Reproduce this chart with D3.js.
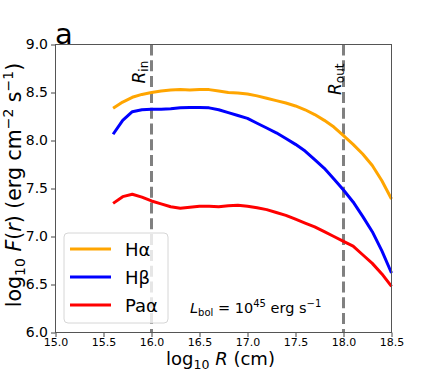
<!DOCTYPE html>
<html>
<head>
<meta charset="utf-8">
<script src="https://cdn.jsdelivr.net/npm/d3@7"></script>
<style>
  body { margin: 0; background: #fff; }
  text { font-family: "DejaVu Sans", sans-serif; }
</style>
</head>
<body>
<svg id="chart"></svg>
<script>
// log10 R (cm) grid and log10 F(r) for each line
const logR = [15.6, 15.7, 15.8, 15.9, 16.0, 16.1, 16.2, 16.3, 16.4, 16.5,
              16.6, 16.7, 16.8, 16.9, 17.0, 17.1, 17.2, 17.3, 17.4, 17.5,
              17.6, 17.7, 17.8, 17.9, 18.0, 18.1, 18.2, 18.3, 18.4, 18.5];
const hAlpha = [8.335, 8.40, 8.45, 8.48, 8.50, 8.515, 8.525, 8.53, 8.525, 8.53,
                8.53, 8.515, 8.50, 8.495, 8.485, 8.465, 8.44, 8.415, 8.39, 8.36,
                8.32, 8.27, 8.21, 8.14, 8.05, 7.96, 7.86, 7.74, 7.58, 7.39];
const hBeta = [8.065, 8.21, 8.30, 8.32, 8.325, 8.325, 8.33, 8.34, 8.345, 8.345,
               8.34, 8.32, 8.29, 8.26, 8.23, 8.18, 8.13, 8.08, 8.02, 7.96,
               7.89, 7.80, 7.71, 7.60, 7.485, 7.36, 7.21, 7.05, 6.85, 6.62];
const paAlpha = [7.345, 7.415, 7.44, 7.41, 7.37, 7.34, 7.31, 7.295, 7.305, 7.315,
                 7.315, 7.31, 7.32, 7.325, 7.315, 7.30, 7.28, 7.25, 7.22, 7.18,
                 7.14, 7.10, 7.05, 7.00, 6.95, 6.90, 6.81, 6.72, 6.61, 6.48];
const seriesNames = ["Hα", "Hβ", "Paα"];
const seriesColors = ["#FFA500", "#0000FF", "#FF0000"];
const xTicks = [15.0, 15.5, 16.0, 16.5, 17.0, 17.5, 18.0, 18.5];
const yTicks = [6.0, 6.5, 7.0, 7.5, 8.0, 8.5, 9.0];
const radii = [16.0, 18.0]; // R_in, R_out

const config = {
  containerWidth: 436,
  containerHeight: 374,
  margin: {top: 44.5, right: 44.5, bottom: 41.5, left: 55.5}
};
const width = config.containerWidth - config.margin.left - config.margin.right;
const height = config.containerHeight - config.margin.top - config.margin.bottom;

const svg = d3.select('#chart')
    .attr('width', config.containerWidth)
    .attr('height', config.containerHeight);

const chart = svg.append('g')
    .attr('transform', `translate(${config.margin.left},${config.margin.top})`);

const xScale = d3.scaleLinear().domain([15.0, 18.5]).range([0, width]);
const yScale = d3.scaleLinear().domain([6.0, 9.0]).range([height, 0]);

// Axes
const xAxis = d3.axisBottom(xScale).tickValues(xTicks).tickFormat(d3.format('.1f')).tickSize(4.5).tickPadding(1);
const yAxis = d3.axisLeft(yScale).tickValues(yTicks).tickFormat(d3.format('.1f')).tickSize(4.5).tickPadding(3);

const xAxisG = chart.append('g')
    .attr('transform', `translate(0,${height})`)
    .call(xAxis);
xAxisG.selectAll('text').attr('font-size', 11).attr('fill', '#000');

const yAxisG = chart.append('g').call(yAxis);
yAxisG.selectAll('text').attr('font-size', 14).attr('fill', '#000');

[xAxisG, yAxisG].forEach(g => {
  g.select('.domain').remove();
  g.selectAll('line').attr('stroke', '#444');
  g.attr('font-family', null);
});

// Dashed vertical lines at R_in, R_out
chart.selectAll('.radius')
    .data(radii)
    .join('line')
    .attr('class', 'radius')
    .attr('x1', d => xScale(d))
    .attr('x2', d => xScale(d))
    .attr('y1', 0)
    .attr('y2', height)
    .attr('stroke', '#808080')
    .attr('stroke-width', 3)
    .attr('stroke-dasharray', '11,4.8');

// Curves
const series = [hAlpha, hBeta, paAlpha];
const line = d3.line()
    .x((d, i) => xScale(logR[i]))
    .y(d => yScale(d));

chart.selectAll('.curve')
    .data(series)
    .join('path')
    .attr('class', 'curve')
    .attr('d', line)
    .attr('fill', 'none')
    .attr('stroke', (d, i) => seriesColors[i])
    .attr('stroke-width', 3)
    .attr('stroke-linejoin', 'round');

// Frame
chart.append('rect')
    .attr('width', width)
    .attr('height', height)
    .attr('fill', 'none')
    .attr('stroke', '#555')
    .attr('stroke-width', 1);

// R_in / R_out labels (rotated)
const rLabels = [{x: 144.5, y: 83.5, sub: 'in'}, {x: 340.5, y: 95, sub: 'out'}];
rLabels.forEach(r => {
  const t = svg.append('text')
      .attr('transform', `translate(${r.x},${r.y}) rotate(-90)`)
      .attr('font-size', 17);
  t.append('tspan').attr('font-style', 'italic').text('R');
  t.append('tspan').attr('font-size', 12).attr('dy', 3.5).text(r.sub);
});

// Legend
const legend = svg.append('g').attr('transform', 'translate(64,233)');
legend.append('rect')
    .attr('width', 104)
    .attr('height', 90)
    .attr('rx', 4)
    .attr('fill', 'rgba(255,255,255,0.8)')
    .attr('stroke', '#d6d6d6');
seriesNames.forEach((name, i) => {
  const y = 16 + i * 28;
  legend.append('line')
      .attr('x1', 6).attr('x2', 47)
      .attr('y1', y).attr('y2', y)
      .attr('stroke', seriesColors[i])
      .attr('stroke-width', 3);
  legend.append('text')
      .attr('x', 61).attr('y', y + 7)
      .attr('font-size', 18)
      .text(name);
});

// L_bol annotation
const lbol = svg.append('text')
    .attr('x', 190).attr('y', 313)
    .attr('font-size', 14.5);
lbol.append('tspan').attr('font-style', 'italic').text('L');
lbol.append('tspan').attr('font-size', 10).attr('dy', 3).text('bol');
lbol.append('tspan').attr('dy', -3).text(' = 10');
lbol.append('tspan').attr('font-size', 10).attr('dy', -6).text('45');
lbol.append('tspan').attr('dy', 6).text(' erg s');
lbol.append('tspan').attr('font-size', 10).attr('dy', -6).text('−1');

// Axis titles
const xt = svg.append('text')
    .attr('x', 220.5).attr('y', 364.5)
    .attr('text-anchor', 'middle')
    .attr('font-size', 18);
xt.append('tspan').text('log');
xt.append('tspan').attr('font-size', 12.5).attr('dy', 4).text('10');
xt.append('tspan').attr('dy', -4).text(' ');
xt.append('tspan').attr('font-style', 'italic').text('R');
xt.append('tspan').text(' (cm)');

const yt = svg.append('text')
    .attr('transform', 'translate(20.5,185) rotate(-90)')
    .attr('text-anchor', 'middle')
    .attr('font-size', 20.5);
yt.append('tspan').text('log');
yt.append('tspan').attr('font-size', 14).attr('dy', 4).text('10');
yt.append('tspan').attr('dy', -4).text(' ');
yt.append('tspan').attr('font-style', 'italic').text('F');
yt.append('tspan').text('(');
yt.append('tspan').attr('font-style', 'italic').text('r');
yt.append('tspan').text(') (erg cm');
yt.append('tspan').attr('font-size', 14).attr('dy', -8).text('−2');
yt.append('tspan').attr('dy', 8).text(' s');
yt.append('tspan').attr('font-size', 14).attr('dy', -8).text('−1');
yt.append('tspan').attr('dy', 8).text(')');

// Panel label
svg.append('text')
    .attr('x', 55).attr('y', 44)
    .attr('font-size', 29)
    .text('a');
</script>
</body>
</html>
